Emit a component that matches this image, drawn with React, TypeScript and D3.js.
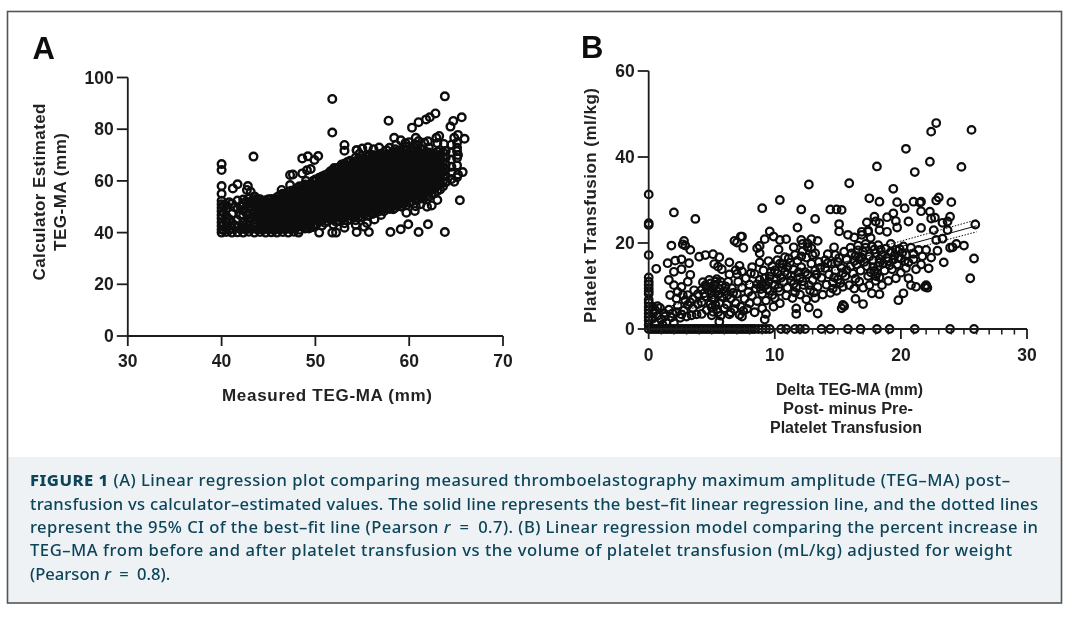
import React from "react";
import * as d3 from "d3";

// ---------- Panel A data ----------
const aTicksX = [30, 40, 50, 60, 70];
const aTicksY = [0, 20, 40, 60, 80, 100];
const aOutliers: number[][] = [
  [51.8,91.7],[51.8,78.7],[43.4,69.4],[48.6,68.7],[49.2,69.5],[49.9,68.1],[50.3,69.6],[53.1,73.9],[53.1,71.7],[54.4,71.9],
  [52,65],[53.1,65.5],[47.3,62.3],[47.6,62.5],[48.6,62.9],[49.1,64.1],[49.5,64.6],[40,66.5],[40,64.2],[40,58],[40,55],
  [41.2,57.1],[41.7,58.7],[42.8,58],[43.1,55.8],[42.7,56.5],[43.5,54],[46.4,56.5],[47.3,58.4],[50.8,61.1],[49,60],[50,60.5],
  [63.8,92.7],[57.8,83.3],[60.3,80.6],[61,82.7],[61.8,83.8],[62.2,84.6],[62.8,86.1],[64.7,83.2],[64.4,81],[65.6,84.6],
  [58.4,76.7],[59.1,75.7],[57.9,72.8],[60.7,76.7],[61,75.4],[62.9,76.7],[63.2,77.4],[64.8,76.7],[65.2,77.8],[65.9,76.3],
  [65.1,72.8],[65.2,70],[65.7,63.4],[65.2,62.5],[64.8,59.7],[63.9,59.5],[65.4,52.5],[63,52.6],[61.9,50],[60.6,48.4],[59.7,47.7],
  [58.3,49],[56.3,45.1],[57,46.8],[59.9,43.2],[59.1,41.3],[58,40.2],[61,40.2],[62,43.2],[63.8,40.2],[55.7,40.2],[54.4,40.2],
  [54.3,43],[53.1,41.9],[55.2,42.3],[56.9,70.4],[56.3,69.7],[54.4,71.9],[50.4,40],[51.8,40],[52.2,40],[62.4,50.5],[60.7,50.2],
  [61.2,51],[59.2,50],[55.5,43.7],[48.2,40],[49.3,41.6],[49.8,42.2],
  [55,72.5],[55.6,73],[56.2,72.2],[56.8,72.9],[58.6,74],[59.6,74.6],[60,75],[60.6,74.2],[62,75.3],[61.6,74.8],[63,74.6],[63.7,74.3],[54.7,70.5],
];
const aColumnX = [40,40.5,41.1,41.7,42.3,42.9,43.5,44.1,44.7,45.3,45.9,46.5,47.1,47.7,48.3,48.9,49.5,50.1,50.7,51.3,51.9,52.5,53.1,53.7,54.3,54.9,55.5,56.1,56.7,57.3,57.9,58.5,59.1,59.7,60.3,60.9,61.5,62.1,62.7,63.3,63.9,64.5,65.1];
const aColumnY: number[][] = [
  [40,41.2,42.6,44,45.5,46.8,48.3,49.6,51,52.3],
  [40.2,42.1,44.2,46.4,49.1,50.6],
  [40,41.8,43.7,47.3,51.2],
  [40.1,42.4,44.9,49.4,52.4],
  [40,41.9,44.2,46.6,48.7,50.9,52.8],
  [40.3,42.7,44.6,46.9,49.3,51.4,53.2],
  [40,42.1,44.1,46.2,48.1,50.3,52.4],
  [40.2,41.9,43.9,45.8,47.7,49.8,51.6,52.9],
  [40,42.3,44.4,46.4,48.5,50.4,52.5],
  [40.1,42,43.8,45.7,47.6,49.5,51.4,53],
  [40,41.8,44,46,48,50.1,52,53.7],
  [40.2,42.4,44.3,46.2,48.2,50,51.9,53.9,55],
  [40,42,43.9,45.8,47.9,49.7,51.8,53.6,55.7],
  [40.3,42.2,44.1,46.1,48.1,50.1,52.1,54,56.2],
  [41.1,42.9,44.8,46.9,48.8,50.7,52.6,54.5,56.4,57.9],
  [41.6,43.6,45.4,47.3,49.2,51.2,53.1,55,56.9,58.6],
  [42,43.9,45.8,47.7,49.7,51.6,53.5,55.5,57.4,59],
  [43.3,45.1,47,48.9,50.8,52.7,54.6,56.5,58.4,60.2],
  [42.7,44.7,46.6,48.5,50.4,52.3,54.2,56.1,58,59.9,61.7],
  [44.3,46.2,48.1,50,51.9,53.8,55.7,57.6,59.5,61.4,62.7],
  [43.1,45.2,47.1,49,50.9,52.8,54.7,56.6,58.5,60.4,62.3,64],
  [44.4,46.3,48.2,50.1,52,53.9,55.8,57.7,59.6,61.5,63.4,65.2],
  [43.6,45.7,47.6,49.5,51.4,53.3,55.2,57.1,59,60.9,62.8,64.7,66.6],
  [45.1,47,48.9,50.8,52.7,54.6,56.5,58.4,60.3,62.2,64.1,66,67.8],
  [44.8,46.6,48.5,50.4,52.3,54.2,56.1,58,59.9,61.8,63.7,65.6,67.5,69],
  [46,47.9,49.8,51.7,53.6,55.5,57.4,59.3,61.2,63.1,65,66.9,68.8],
  [46.6,48.4,50.3,52.2,54.1,56,57.9,59.8,61.7,63.6,65.5,67.4,69.3],
  [47.2,49.1,51,52.9,54.8,56.7,58.6,60.5,62.4,64.3,66.2,68.1,70],
  [48.1,49.9,51.8,53.7,55.6,57.5,59.4,61.3,63.2,65.1,67,68.9],
  [48.3,50.2,52.1,54,55.9,57.8,59.7,61.6,63.5,65.4,67.3,69.2,71.1],
  [49.1,51,52.9,54.8,56.7,58.6,60.5,62.4,64.3,66.2,68.1,70],
  [49.6,51.5,53.4,55.3,57.2,59.1,61,62.9,64.8,66.7,68.6,70.5,72.2],
  [50.2,52.1,54,55.9,57.8,59.7,61.6,63.5,65.4,67.3,69.2,71.1],
  [50.6,52.5,54.4,56.3,58.2,60.1,62,63.9,65.8,67.7,69.6,71.5,73.3],
  [52,53.9,55.8,57.7,59.6,61.5,63.4,65.3,67.2,69.1,71],
  [52.7,54.6,56.5,58.4,60.3,62.2,64.1,66,67.9,69.8,71.7,73.6],
  [53.1,55,56.9,58.8,60.7,62.6,64.5,66.4,68.3,70.2,72.1],
  [53.9,55.8,57.7,59.6,61.5,63.4,65.3,67.2,69.1,71,72.9],
  [55.2,57.1,59,60.9,62.8,64.7,66.6,68.5,70.4],
  [56.7,58.6,60.5,62.4,64.3,66.2,68.1,70,71.9],
  [59.6,61.9,64.4,66.3,69.1,71.6],
  [60.7,63.2,65.5,68.3,71,74],
  [61.4,66,68.9,71.5,74.8],
];
// second, staggered reading of the solid part of the cloud
const aFillX = [40.2,40.8,41.4,42,42.6,43.2,43.8,44.4,45,45.6,46.2,46.8,47.4,48,48.6,49.2,49.8,50.4,51,51.6,52.2,52.8,53.4,54,54.6,55.2,55.8,56.4,57,57.6,58.2,58.8,59.4,60,60.6,61.2,61.8,62.4,63,63.6];
const aFillY: number[][] = [
  [41,43.3,47.7,50.5],
  [40.9,45.2,51.7],
  [42.7,49.9],
  [41.3,46.7,50.2],
  [41.1,43.2,47.8,52],
  [41.5,45.8,50.2,52.1],
  [41.2,45.2,47,49.1,51.2,53.1],
  [41,42.9,45,46.9,49,50.9,52.2],
  [41.3,43.3,45.2,47.2,49.1,51,52.9],
  [40.9,42.8,44.9,46.8,48.8,50.7,52.6],
  [41.1,43.2,45.1,47,49,50.9,52.9,54.4],
  [41.3,43.1,44.9,47,49,50.9,52.7,54.7],
  [41.2,43,45,46.9,48.9,50.8,52.9,54.8,56.2],
  [42,43.9,45.9,47.9,49.8,51.8,53.6,55.5,57.2],
  [42.3,44.2,46.2,48.1,50,52,53.9,55.8,57.8],
  [43,44.8,46.8,48.6,50.6,52.5,54.4,56.3,58.2],
  [42.9,44.9,46.7,48.8,50.7,52.6,54.6,56.4,58.3,60.1],
  [44.1,46,47.9,49.9,51.8,53.7,55.6,57.5,59.4,61.2],
  [43.8,45.6,47.6,49.5,51.3,53.3,55.2,57.1,59,60.9,62.2],
  [45.2,47.1,49,51,52.8,54.8,56.7,58.6,60.5,62.4,63.7],
  [44.2,46.1,48.1,50,51.9,53.8,55.7,57.6,59.5,61.4,63.3,64.8],
  [45.4,47.3,49.1,51.1,53,54.9,56.8,58.7,60.6,62.5,64.4,66.3],
  [44.7,46.6,48.6,50.5,52.4,54.3,56.2,58.1,60,61.9,63.8,65.7,67.3],
  [46,47.9,49.9,51.8,53.7,55.6,57.5,59.4,61.3,63.2,65.1,67],
  [46.1,47.6,49.5,51.4,53.3,55.2,57.1,59,60.9,62.8,64.7,66.6,68.5],
  [47,48.9,50.8,52.7,54.6,56.5,58.4,60.3,62.2,64.1,66,67.9],
  [47.7,49.4,51.3,53.2,55.1,57,58.9,60.8,62.7,64.6,66.5,68.4,70.2],
  [48.2,50.1,52,53.9,55.8,57.7,59.6,61.5,63.4,65.3,67.2,69.1],
  [49,50.9,52.8,54.7,56.6,58.5,60.4,62.3,64.2,66.1,68,69.9],
  [49.3,51.2,53.1,55,56.9,58.8,60.7,62.6,64.5,66.4,68.3,70.2,71.8],
  [50.2,52,53.9,55.8,57.7,59.6,61.5,63.4,65.3,67.2,69.1,71],
  [50.6,52.5,54.4,56.3,58.2,60.1,62,63.9,65.8,67.7,69.6,71.5],
  [51.2,53.1,55,56.9,58.8,60.7,62.6,64.5,66.4,68.3,70.2,72.1],
  [51.6,53.5,55.4,57.3,59.2,61.1,63,64.9,66.8,68.7,70.6],
  [53,54.9,56.8,58.7,60.6,62.5,64.4,66.3,68.2,70.1,72],
  [53.6,55.5,57.4,59.3,61.2,63.1,65,66.9,68.8,70.7,72.6],
  [54,55.9,57.8,59.7,61.6,63.5,65.4,67.3,69.2,71.1],
  [54.9,56.8,58.7,60.6,62.5,64.4,66.3,68.2,70.1],
  [56.1,58,59.9,61.8,63.7,65.6,67.5,69.4,71.3],
  [57.8,59.7,61.6,63.5,65.4,67.3,69.2,71.1],
];

// ---------- Panel B data ----------
const bTicksX = [0, 10, 20, 30];
const bMinorX = [1,2,3,4,5,6,7,8,9,11,12,13,14,15,16,17,18,19,21,22,23,24,25,26,27,28,29];
const bTicksY = [0, 20, 40, 60];
const bZeroRowX = [0,0.2,0.4,0.6,0.8,1,1.2,1.4,1.6,1.8,2,2.2,2.4,2.6,2.8,3,3.2,3.4,3.6,3.8,4,4.2,4.4,4.6,4.8,5,5.2,5.4,5.6,5.8,6,6.2,6.4,6.6,6.8,7,7.2,7.4,7.6,7.8,8,8.2,8.4,8.7,9,9.3,9.6,10.5,10.9,11.6,12,12.4,13.7,14.4,15.8,16.8,18.1,19.1,21.1,23.9,25.8];
const bAxisColumnY = [1,2,2.8,3.6,4.4,5.2,6.1,6.8,8.2,8.8,9.5,10.3,11,12,17.2,24.2,24.6,31.3];
const bUpper: number[][] = [
  [22.8,47.9],[22.4,45.9],[25.6,46.3],[20.4,41.9],[22.3,38.9],[18.1,37.8],[21.1,36.5],[24.8,37.7],[19.4,32.6],[15.9,33.9],[12.7,33.6],
  [17.5,30.4],[18.3,29.6],[10.4,30],[9,28.1],[21,29.6],[21.5,29.4],[21.6,29.6],[19.7,29.5],[23,30.6],[22.8,29.9],[24,29.5],[12.1,27.8],
  [14.4,27.8],[14.9,27.8],[15.3,27.7],[2,27.1],[3.7,25.6],[13.2,25.6],[11.8,23.6],[15.1,24.4],[19.4,26.9],[20.3,28.1],[21.6,27.4],[22.3,27.3],
  [17.9,26.1],[18.9,26],[17.3,24.8],[19.6,25.1],[20.6,25],[22.4,25.7],[22.7,25.9],[23.9,26.1],[23.7,25],[23.3,24.7],[25.9,24.3],[18,25],[18.3,24.6],
  [19.7,23.6],[21.6,23.5],[22.6,23],[23.7,23],[18.3,23],[17.4,22.9],[16.9,22.6],[18.9,22.6],[15.1,22.7],[15.8,21.9],[16.3,21.3],[9.6,22.7],[9.9,21.5],
  [7.3,21.5],[9.2,20.9],[10.4,20.7],[10.9,20.9],[12.1,20.7],[12.9,20.9],[13.4,20.5],[6.8,20.5],[2.8,20.5],[1.8,19.4],[2.7,19.7],[2.9,19.4],[3.3,18.4],
  [0.6,14],[1.5,15.3],[2.1,15.9],[2.6,16.2],[3.2,15.3],[2,13.3],[2.6,13.9],[1.6,11.4],[3.3,12.6],[2,10.2],[3.1,11],[2.6,9.8],[1.7,7.9],[3.1,7.9],[2.2,7.1],[2.9,6.7],
  [4,16.8],[4.5,17.2],[5.1,17.4],[5.6,16.7],[6.4,15.5],[5.2,15.1],[5.5,14.5],[5.8,13.9],[7,20.1],[7.4,21.5],[7.5,18.9],[8.6,18.8],[8.8,19.3],[8.8,17.6],
  [10.3,18.5],[11.5,19],[12.2,19.8],[12.6,19.9],[12.9,18.8],[13.2,17.6],[14.7,19],[14.8,17.2],[16.9,21.9],[17.4,22.6],[25.8,16.4],[25.5,11.8],[24.1,19],[24.4,19.8],[25,19.4],
  [22,10.2],[22,10],[21.9,9.8],[22.1,9.6],[21.2,9.8],[20.6,11.8],[20.8,10.2],[20.2,8.3],[19.8,6.7],[18.3,8.1],[17.7,8.3],[17,5.8],[16.4,7],[15.4,5.6],[15.3,4.8],[15.5,5.3],
  [13.4,3.6],[12.7,5],[11.7,4.8],[11.7,3.5],[9.2,2.2],[9.3,3.5],[7.4,2.9],[5.6,1.7],[23.3,21],[22.8,20.7],[23.9,18.9],[22.9,18.2],[22.4,16.6],[23.4,15.5],[22.2,14.1],[21.6,15],[21.2,13.9],[20.4,14.2],[21,17.5],
];
const bCloud: number[][] = [
  [0.5,1.2],[0.7,3.1],[0.9,4.9],[1,2.2],[1.2,3.7],[1.4,1.6],[1.6,4.5],[1.8,2.7],[2,1.4],[2.2,3.9],[2.3,5.4],[2.5,2.6],[2.8,4.3],[3,2.9],[3.1,5.6],[3.4,3.2],[3.5,4.8],[3.8,3.4],[3.9,5.8],[3.9,8.1],
  [4.2,3.5],[4.2,6.2],[4.2,9.1],[4.3,10.9],[4.5,7.6],[4.6,4.4],[4.6,9.9],[4.8,11.4],[4.9,5.8],[5,8.4],[5,3.2],[5.2,6.9],[5.2,10.3],[5.4,4.6],[5.4,8.9],[5.4,11.6],[5.6,6],[5.7,3.1],[5.8,7.5],[5.8,10.1],
  [6,4.8],[6,8.8],[6.2,5.7],[6.3,11],[6.4,3.4],[6.5,7.1],[6.6,9.5],[6.8,4.6],[6.9,6],[7,8.2],[7,12.8],[7.1,11],[7.2,3.3],[7.3,5.2],[7.4,9.6],[7.4,13.4],[7.6,7],[7.7,11.8],[7.8,4.7],[7.9,8.6],
  [8,6],[8,10.3],[8.2,14.4],[8.2,7.7],[8.4,3.9],[8.4,12.8],[8.5,9.4],[8.6,6.5],[8.8,11.4],[8.8,15.5],[9,8.2],[9,4.8],[9.1,13.6],[9.3,10.2],[9.3,6.6],[9.5,15.8],[9.6,8.9],[9.6,12.2],[9.8,14.6],[9.9,5.2],
  [10,10.3],[10,7.2],[10.2,12.9],[10.2,16],[10.4,8.8],[10.4,6],[10.6,14.2],[10.7,11],[10.8,16.7],[10.9,7.8],[11,12.8],[11,9.6],[11.2,15.4],[11.3,11.2],[11.4,7.2],[11.5,13.8],[11.6,17.2],[11.7,9.7],[11.8,15.9],[12,12],
  [12,8],[12.1,14.4],[12.2,18.1],[12.3,10.2],[12.5,16.6],[12.5,6.9],[12.6,12.7],[12.8,9],[12.9,15.2],[13,11.4],[13,17.2],[13.2,7.2],[13.2,13.6],[13.4,9.8],[13.5,15.6],[13.7,11.9],[13.8,8],[14,14.2],[14,16],[14.1,10.3],
  [14.3,12.7],[14.4,8.4],[14.5,15.2],[14.6,10.8],[14.8,13.6],[14.9,8.9],[15,11.5],[15.1,16.5],[15.3,14.2],[15.4,9.8],[15.5,18],[15.6,12.3],[15.7,16.1],[15.9,10.2],[16,14.6],[16,18.9],[16.2,12.9],[16.3,9.4],[16.4,17],[16.5,15],
  [16.6,19.4],[16.7,11],[16.8,13.6],[17,18],[17,9.6],[17.1,15.6],[17.2,19.8],[17.4,12.3],[17.5,16.9],[17.5,10.2],[17.7,19.2],[17.8,14.4],[18,17.6],[18,11.2],[18.1,13],[18.2,19.5],[18.3,15.4],[18.5,10.2],[18.5,17.2],[18.7,13.6],
  [18.8,18.7],[19,11.2],[19,15.8],[19.2,19.8],[19.3,13.9],[19.5,17.1],[19.6,11.8],[19.7,15],[19.9,18.6],[20,13.1],[20,16.4],[20.2,19.2],[20.4,17.2],[20.6,15.5],[20.8,18.9],[21,16.2],[21.4,18.4],[21.7,16.9],[22,18.4],[17.6,21.2],
];
const bClumps: number[][] = [
  [0.3,2.4],[0.4,3.8],[0.3,5.2],[0.5,4.4],[0.7,5.3],[1.1,1],[1.3,2.9],[1.9,3.6],[2.6,3.4],[2.7,7.9],[4.4,8.3],[4.5,10.2],[4.7,9],[4.9,10.6],[5,7.2],[5.1,9.4],[5.3,11],[5.5,8],[5.6,9.3],[5.7,11],
  [5,5],[5.3,5.6],[5.5,3.9],[5.1,4],[6.1,9.9],[6.2,7.8],[6.7,8.4],[8.6,10.4],[8.9,9.3],[9.2,11.8],[9.4,9.3],[9.5,11],[9.7,13.3],[9.8,7.9],[10.1,11.6],[10.3,9.6],[10.5,11.9],[10.6,15.1],[10.8,13.3],[11,14.4],
  [11.1,16.4],[11.3,12.4],[11.5,10.5],[11.6,8.5],[12.2,11.1],[12.4,13.2],[12.6,19],[12.7,10.2],[13.1,8.5],[13.3,12.6],[14.2,15.3],[14.6,9.4],[14.7,12],[15.2,10.7],[15.7,13.7],[16.1,17.6],[16.3,15.8],[16.6,18.3],[16.9,16.6],[17.2,18.9],
  [17.3,14.6],[17.8,16],[17.9,18.5],[18.2,14.6],[18.3,16.3],[18.4,18.4],[18.6,15.2],[18.9,16.6],[19.1,14.8],[19.2,17.9],[19.4,16.1],[19.6,18.4],[19.8,16.5],[20.1,17.7],[20.3,15.8],[18,12.3],[17.9,13.5],[18.3,12],[6.5,3.9],[7.5,4.2],
  [2.3,8.6],[3.5,7],[3.6,9],[3.3,6.2],[6.4,12.7],[6.9,13.7],[7.2,14.7],[8.1,13],[9,10.4],[10,13.6],[10.4,15.2],[11.9,13.2],[12.1,16.9],[13.6,14.2],[14.2,17.4],[15,15.6],[15.4,13],[16.4,11.7],[16.7,16.2],[17.6,13.2],
];
const bFitX = [0, 26];
const bFitY = [3, 24];
const bFitUpperY = [3.9, 25.4];
const bFitLowerY = [2.1, 22.6];

// ---------- Caption ----------
const captionLines = [
  " (A) Linear regression plot comparing measured thromboelastography maximum amplitude (TEG\u2013MA) post\u2013",
  "transfusion vs calculator\u2013estimated values. The solid line represents the best\u2013fit linear regression line, and the dotted lines",
  "represent the 95% CI of the best\u2013fit line (Pearson ",
  "\u2002=\u20020.7). (B) Linear regression model comparing the percent increase in",
  "TEG\u2013MA from before and after platelet transfusion vs the volume of platelet transfusion (mL/kg) adjusted for weight",
  "(Pearson ",
  "\u2002=\u20020.8).",
];

const INK = "#0c0c0c";
const AX = "#1c1c1c";
const CAP = "#0d4459";
const SANS = "'Liberation Sans', Arial, sans-serif";
const CAPF = "'Noto Sans', 'Open Sans', sans-serif";

export default function App() {
  const ax = d3.scaleLinear().domain([30, 70]).range([127.8, 503]);
  const ay = d3.scaleLinear().domain([0, 100]).range([336, 77.5]);
  const bx = d3.scaleLinear().domain([0, 30]).range([648.7, 1027]);
  const by = d3.scaleLinear().domain([0, 60]).range([329, 71]);

  const aPts: number[][] = [...aOutliers];
  aColumnX.forEach((x, i) => aColumnY[i].forEach((y) => aPts.push([x, y])));
  aFillX.forEach((x, i) => aFillY[i].forEach((y) => aPts.push([x, y])));
  const bPts: number[][] = [
    ...bZeroRowX.map((x) => [x, 0]),
    ...bAxisColumnY.map((y) => [0, y]),
    ...bUpper,
    ...bCloud,
    ...bClumps,
  ];
  const fit = (ys: number[]) =>
    d3.line<number>().x((x) => bx(x)).y((_, i) => by(ys[i]))(bFitX) as string;

  const tick = { fontFamily: SANS, fontWeight: 700, fontSize: 17.5, fill: AX } as const;
  const title = { fontFamily: SANS, fontWeight: 700, fontSize: 17, fill: "#222", lengthAdjust: "spacing" } as const;
  const sub = { ...title, fontSize: 15.6, lengthAdjust: "spacingAndGlyphs" } as const;
  const capStyle = { fontFamily: CAPF, fontSize: 16.6, fill: CAP, fontWeight: 500 } as const;

  return (
    <svg width={1080} height={618} style={{ position: "fixed", left: 0, top: 0, background: "#fff" }}>
      <defs>
        <filter id="soft" x="0" y="0" width="100%" height="100%">
          <feGaussianBlur stdDeviation="0.45" />
        </filter>
      </defs>
      <rect x={8} y={457} width={1053} height={146} fill="#eef2f5" />
      <rect x={7.5} y={11.5} width={1054} height={591.5} fill="none" stroke="#555" strokeWidth={1.6} />

      <g filter="url(#soft)">
        <text x={32.5} y={58.5} fontFamily={SANS} fontWeight={700} fontSize={31} fill="#111">A</text>
        <text x={581} y={57.5} fontFamily={SANS} fontWeight={700} fontSize={31} fill="#111">B</text>

        {/* Panel A */}
        <g fill="none" stroke={INK} strokeWidth={2.4}>
          {aPts.map((p, i) => <circle key={i} cx={ax(p[0])} cy={ay(p[1])} r={3.8} />)}
        </g>
        <path d={`M${ax(30)},${ay(100)}V${ay(0)}H${ax(70)}`} fill="none" stroke={AX} strokeWidth={1.8} />
        {aTicksY.map((t) => (
          <g key={t}>
            <line x1={ax(30) - 11} x2={ax(30)} y1={ay(t)} y2={ay(t)} stroke={AX} strokeWidth={1.8} />
            <text x={ax(30) - 14} y={ay(t) + 6} textAnchor="end" {...tick}>{t}</text>
          </g>
        ))}
        {aTicksX.map((t) => (
          <g key={t}>
            <line x1={ax(t)} x2={ax(t)} y1={ay(0)} y2={ay(0) + 10} stroke={AX} strokeWidth={1.8} />
            <text x={ax(t)} y={367} textAnchor="middle" {...tick}>{t}</text>
          </g>
        ))}
        <text transform="translate(45,192) rotate(-90)" textAnchor="middle" textLength={177} {...title}>Calculator Estimated</text>
        <text transform="translate(66,192) rotate(-90)" textAnchor="middle" textLength={118} {...title}>TEG-MA (mm)</text>
        <text x={327} y={401} textAnchor="middle" textLength={210} {...title}>Measured TEG-MA (mm)</text>

        {/* Panel B */}
        <path d={fit(bFitY)} stroke={INK} strokeWidth={1} fill="none" />
        <path d={fit(bFitUpperY)} stroke={INK} strokeWidth={1} strokeDasharray="1.5 1.5" fill="none" />
        <path d={fit(bFitLowerY)} stroke={INK} strokeWidth={1} strokeDasharray="1.5 1.5" fill="none" />
        <g fill="none" stroke={INK} strokeWidth={2.2}>
          {bPts.map((p, i) => <circle key={i} cx={bx(p[0])} cy={by(p[1])} r={3.8} />)}
        </g>
        <path d={`M${bx(0)},${by(60)}V${by(0)}H${bx(30)}`} fill="none" stroke={AX} strokeWidth={1.8} />
        {bTicksY.map((t) => (
          <g key={t}>
            <line x1={bx(0) - 11} x2={bx(0)} y1={by(t)} y2={by(t)} stroke={AX} strokeWidth={1.8} />
            <text x={bx(0) - 14} y={by(t) + 6} textAnchor="end" {...tick}>{t}</text>
          </g>
        ))}
        {bTicksX.map((t) => (
          <g key={t}>
            <line x1={bx(t)} x2={bx(t)} y1={by(0)} y2={by(0) + 10} stroke={AX} strokeWidth={1.8} />
            <text x={bx(t)} y={361} textAnchor="middle" {...tick}>{t}</text>
          </g>
        ))}
        {bMinorX.map((t) => (
          <line key={t} x1={bx(t)} x2={bx(t)} y1={by(0)} y2={by(0) + 5.5} stroke={AX} strokeWidth={1.5} />
        ))}
        <text transform="translate(595.5,205.5) rotate(-90)" textAnchor="middle" textLength={235} {...title}>Platelet  Transfusion (ml/kg)</text>
        <text x={849.5} y={395} textAnchor="middle" textLength={147} {...sub}>Delta TEG-MA (mm)</text>
        <text x={848} y={414} textAnchor="middle" textLength={130} {...sub}>Post- minus Pre-</text>
        <text x={846} y={433} textAnchor="middle" textLength={152} {...sub}>Platelet Transfusion</text>
      </g>

      {/* Caption */}
      <g {...capStyle} filter="url(#soft)">
        <text x={30} y={486} textLength={980} lengthAdjust="spacing">
          <tspan fontWeight={800}>FIGURE 1 </tspan>{captionLines[0]}
        </text>
        <text x={30} y={509.5} textLength={1008} lengthAdjust="spacing">{captionLines[1]}</text>
        <text x={30} y={533} textLength={1008} lengthAdjust="spacing">
          {captionLines[2]}<tspan fontStyle="italic">r</tspan>{captionLines[3]}
        </text>
        <text x={30} y={556} textLength={982} lengthAdjust="spacing">{captionLines[4]}</text>
        <text x={30} y={579.5}>
          {captionLines[5]}<tspan fontStyle="italic">r</tspan>{captionLines[6]}
        </text>
      </g>
    </svg>
  );
}
